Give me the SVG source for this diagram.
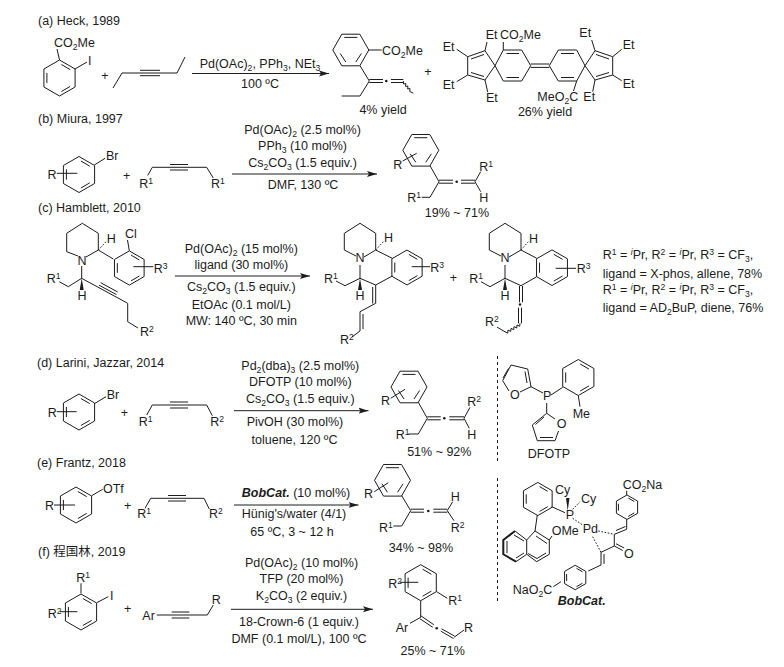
<svg xmlns="http://www.w3.org/2000/svg" width="784" height="667" viewBox="0 0 784 667">
<style>
text{font-family:"Liberation Sans","Noto Sans CJK SC",sans-serif;font-size:12.5px;fill:#1c1c1c}
.m{text-anchor:middle}
.s{font-size:8.6px}
path,line{fill:none;stroke:#1c1c1c;stroke-width:1}
.hex path{vector-effect:non-scaling-stroke}
.dash{stroke-dasharray:1.6 1.6}
.vd{stroke-dasharray:3 3}
.w{fill:#1c1c1c;stroke:none}
.bold{stroke-width:2}
circle{fill:#1c1c1c}
</style>
<defs>
<marker id="ah" markerUnits="userSpaceOnUse" markerWidth="11" markerHeight="8" refX="10" refY="4" orient="auto"><path d="M0 1 L10 4 L0 7 L2 4Z" style="fill:#1c1c1c;stroke:none"/></marker>
<g id="hexA" class="hex"><path d="M0-18 15.6-9V9L0 18-15.6 9V-9Z"/><path d="M1.9-13.5 10.7-8.4M10.7 8.4 1.9 13.5M-12.6 5.1V-5.1"/></g>
<g id="hexB" class="hex"><path d="M-9-15.8H9L18 0 9 15.8H-9L-18 0Z"/><path d="M-6.5-12.6H6.5M10.6 3.5 5 12M-10.6 3.5-5 12"/></g>
</defs>
<g id="labels">
<text x="38" y="25">(a) Heck, 1989</text>
<text x="38" y="123">(b) Miura, 1997</text>
<text x="38" y="212">(c) Hamblett, 2010</text>
<text x="37" y="367">(d) Larini, Jazzar, 2014</text>
<text x="37" y="467">(e) Frantz, 2018</text>
<text x="38" y="556">(f) 程国林, 2019</text>
</g>
<g id="connectors">
<line x1="192" y1="73.5" x2="329" y2="73.5" marker-end="url(#ah)"/>
<line x1="232" y1="174" x2="377" y2="174" marker-end="url(#ah)"/>
<line x1="175" y1="276" x2="310" y2="276" marker-end="url(#ah)"/>
<line x1="234" y1="410.7" x2="368.5" y2="410.7" marker-end="url(#ah)"/>
<line x1="234" y1="505" x2="358.5" y2="505" marker-end="url(#ah)"/>
<line x1="231" y1="609.3" x2="373" y2="609.3" marker-end="url(#ah)"/>
</g>
<g id="dividers">
<line class="vd" x1="497.5" y1="356" x2="497.5" y2="462"/>
<line class="vd" x1="497.5" y1="478" x2="497.5" y2="602"/>
</g>
<g id="conditions">
<text class="m" x="260" y="68">Pd(OAc)<tspan class="s" dy="3">2</tspan><tspan dy="-3">, PPh</tspan><tspan class="s" dy="3">3</tspan><tspan dy="-3">, NEt</tspan><tspan class="s" dy="3">3</tspan></text>
<text class="m" x="260" y="88">100 ºC</text>
<text class="m" x="302.5" y="133.5">Pd(OAc)<tspan class="s" dy="3">2</tspan><tspan dy="-3"> (2.5 mol%)</tspan></text>
<text class="m" x="302.5" y="150">PPh<tspan class="s" dy="3">3</tspan><tspan dy="-3"> (10 mol%)</tspan></text>
<text class="m" x="302.5" y="167">Cs<tspan class="s" dy="3">2</tspan><tspan dy="-3">CO</tspan><tspan class="s" dy="3">3</tspan><tspan dy="-3"> (1.5 equiv.)</tspan></text>
<text class="m" x="303" y="188.5">DMF, 130 ºC</text>
<text class="m" x="241.3" y="252.5">Pd(OAc)<tspan class="s" dy="3">2</tspan><tspan dy="-3"> (15 mol%)</tspan></text>
<text class="m" x="241.3" y="269">ligand (30 mol%)</text>
<text class="m" x="241.3" y="291">Cs<tspan class="s" dy="3">2</tspan><tspan dy="-3">CO</tspan><tspan class="s" dy="3">3</tspan><tspan dy="-3"> (1.5 equiv.)</tspan></text>
<text class="m" x="241.3" y="308.5">EtOAc (0.1 mol/L)</text>
<text class="m" x="241.3" y="325">MW: 140 ºC, 30 min</text>
<text class="m" x="300.3" y="370">Pd<tspan class="s" dy="3">2</tspan><tspan dy="-3">(dba)</tspan><tspan class="s" dy="3">3</tspan><tspan dy="-3"> (2.5 mol%)</tspan></text>
<text class="m" x="300.3" y="386.3">DFOTP (10 mol%)</text>
<text class="m" x="300.3" y="403.3">Cs<tspan class="s" dy="3">2</tspan><tspan dy="-3">CO</tspan><tspan class="s" dy="3">3</tspan><tspan dy="-3"> (1.5 equiv.)</tspan></text>
<text class="m" x="295" y="426">PivOH (30 mol%)</text>
<text class="m" x="294.5" y="444">toluene, 120 ºC</text>
<text class="m" x="296" y="497"><tspan font-weight="bold" font-style="italic">BobCat.</tspan> (10 mol%)</text>
<text class="m" x="294" y="518.3">Hünig's/water (4/1)</text>
<text class="m" x="292" y="535.7">65 ºC, 3 ~ 12 h</text>
<text class="m" x="301.5" y="566.7">Pd(OAc)<tspan class="s" dy="3">2</tspan><tspan dy="-3"> (10 mol%)</tspan></text>
<text class="m" x="301.5" y="583.3">TFP (20 mol%)</text>
<text class="m" x="301.5" y="600">K<tspan class="s" dy="3">2</tspan><tspan dy="-3">CO</tspan><tspan class="s" dy="3">3</tspan><tspan dy="-3"> (2 equiv.)</tspan></text>
<text class="m" x="299" y="625.7">18-Crown-6 (1 equiv.)</text>
<text class="m" x="299" y="643.3">DMF (0.1 mol/L), 100 ºC</text>
</g>
<g id="a-aryl-iodide">
<use href="#hexA" x="59.5" y="78"/>
<path d="M59.5 60 57 49M75 69 87 62"/>
<text x="54" y="47">CO<tspan class="s" dy="3">2</tspan><tspan dy="-3">Me</tspan></text>
<text x="88" y="65">I</text>
</g>
<g id="a-plus"><text class="m" x="105" y="80">+</text></g>
<g id="a-alkyne"><path d="M113 88 122 73H177L185 57M140 70.3H160M140 75.7H160"/></g>
<g id="a-allene">
<use href="#hexB" x="350.8" y="50"/>
<path d="M369 50H381.7M360 65.7 369.3 81 360 96H341.7M369.3 79.5H383M369.3 82.5H383M391 79.5H403.3M391 82.5H403.3"/>
<circle cx="386.3" cy="81" r="1.3"/>
<path d="M403.3 81l.2 3 2.3-.5-.2 3 2.3-.5-.2 3 2.3-.5-.2 3 3.5 1.7"/>
<text x="382" y="55">CO<tspan class="s" dy="3">2</tspan><tspan dy="-3">Me</tspan></text>
<text class="m" x="383" y="114">4% yield</text>
</g>
<g id="a-plus2"><text class="m" x="428" y="76">+</text></g>
<g id="a-dimer">
<path d="M495 65.7 503.3 50H521.7L530.7 65.7 521.7 81H503.3ZM506.5 53.5H519M506.5 77.5H519M530.7 64H549.3M530.7 67.4H549.3M549.3 65.7 558.3 50H576.7L585 65.7 576.7 81H558.3ZM561 53.5H574M561 77.5H574"/>
<path d="M495 65.7 485 50.7 467.7 56.7V75L485 80ZM484 54.5 471 59M471 72.5 484 76.5M585 65.7 595 50.7 612.7 56.7V75L595 80ZM596 54.5 609 59M609 72.5 596 76.5"/>
<path d="M485 50.7 487 42M467.7 56.7 456.7 49.3M467.7 75 456.7 81.7M485 80 487.7 92M503.3 50V42M595 50.7 591.7 40M612.7 56.7 621.7 49.3M612.7 75 621.7 80.7M595 80 592.7 91.7M576.7 81 573.5 91"/>
<text x="485.7" y="38.5">Et</text><text x="500" y="38.5">CO<tspan class="s" dy="3">2</tspan><tspan dy="-3">Me</tspan></text>
<text x="442.7" y="50.7">Et</text><text x="442.7" y="89">Et</text><text x="486" y="101.7">Et</text>
<text x="579.3" y="37.3">Et</text><text x="622.7" y="49.3">Et</text><text x="622.7" y="88.3">Et</text><text x="583.3" y="100.7">Et</text>
<text x="537.3" y="100.7">MeO<tspan class="s" dy="3">2</tspan><tspan dy="-3">C</tspan></text>
<text class="m" x="545" y="115.5">26% yield</text>
</g>
<g id="b-aryl-bromide">
<use href="#hexA" x="79" y="174.5"/>
<path d="M94.3 165 105 158.3M56.7 173.3H77.3"/>
<text x="106" y="160">Br</text><text x="47.5" y="178.5">R</text>
</g>
<g id="b-plus"><text class="m" x="126.7" y="180">+</text></g>
<g id="b-alkyne">
<path d="M147.7 175.5 152.3 167.3H206.7L213.3 178M170 164.5H188M170 170H188"/>
<text x="139.3" y="188">R<tspan class="s" dy="-4">1</tspan></text><text x="211" y="188">R<tspan class="s" dy="-4">1</tspan></text>
</g>
<g id="b-allene">
<use href="#hexB" x="420.8" y="150.3"/>
<path d="M402.7 161 416.7 153.3M430 165.7 439 181.7 430 197.3H421.7M439 180.2H453M439 183.2H453M461 180.2H475M461 183.2H475M475 181.7 480.7 171.7M475 181.7 480.7 191.7"/>
<circle cx="456.7" cy="181.7" r="1.3"/>
<text x="393.3" y="168.5">R</text><text x="479.3" y="170.7">R<tspan class="s" dy="-4">1</tspan></text><text x="479.3" y="201.7">H</text><text x="407.3" y="201.7">R<tspan class="s" dy="-4">1</tspan></text>
<text class="m" x="457" y="216.7">19% ~ 71%</text>
</g>
<g id="c-substrate">
<path d="M78 256 66.7 251.7V233.3L82.3 223.3 98.3 233.3V250L86 257M98.3 250 113.3 259"/>
<path class="dash" d="M98.3 250 106 241.7"/>
<use href="#hexA" transform="translate(129.3 268) scale(.95)"/>
<path d="M129.3 250.7 127.5 240M133.3 266.7H153.3M81.7 266V278.3L68.3 286.7 59.3 281.7M81.7 278.3 127.7 303.3V321.7L138 328M99 285.2 116.5 294.6M100.7 282.7 117.7 292"/>
<path class="w" d="M81.7 278.3 79.7 290H83.7Z"/>
<text class="m" x="82" y="265">N</text><text x="106.7" y="243">H</text><text x="125" y="237.7">Cl</text>
<text x="153.7" y="272.7">R<tspan class="s" dy="-4">3</tspan></text><text x="46.7" y="282.7">R<tspan class="s" dy="-4">1</tspan></text>
<text class="m" x="82" y="299.5">H</text><text x="140" y="336">R<tspan class="s" dy="-4">2</tspan></text>
</g>
<g id="c-diene">
<path d="M356 256 344.3 250V233.3L360 223.3 375.7 233.3V250L364 257M375.7 250 392.3 258.3"/>
<path class="dash" d="M375.7 250 383.3 241.7"/>
<use href="#hexA" transform="translate(407 267.5) scale(.97)"/>
<path d="M411.7 266.7H430M360 265V278.3L345 285.7 336 281M360 278.3 375.7 285 392.3 276M375.7 285V303.3M372.7 287V303.5M375.7 303.3 360 311.7V331L352 337M363 314V329"/>
<path class="w" d="M360 278.3 358 290H362Z"/>
<text class="m" x="360" y="261.7">N</text><text x="384" y="241.7">H</text>
<text x="430.3" y="271.7">R<tspan class="s" dy="-4">3</tspan></text><text x="324" y="282.7">R<tspan class="s" dy="-4">1</tspan></text>
<text class="m" x="360" y="300">H</text><text x="340" y="344.3">R<tspan class="s" dy="-4">2</tspan></text>
</g>
<g id="c-plus"><text class="m" x="453.3" y="281.5">+</text></g>
<g id="c-allene">
<path d="M501 256 489.3 250V233.3L505 223.3 521 233.3V250L509 257M521 250 536.7 258.3"/>
<path class="dash" d="M521 250 528.3 241.7"/>
<use href="#hexA" transform="translate(552 267.7) scale(.99)"/>
<path d="M555.7 268.3H576M505 265V278.3L490 286.7 481 281.7M505 278.3 521 285.7 536.7 276.7M519.5 286V302.3M522.5 286V302.3M518.5 307.7V323.3M521.5 307.7V323.3"/>
<circle cx="520" cy="304.5" r="1.3"/>
<path d="M520 323.3l-.3 3-2.7-1.3-.3 3-2.7-1.3-.3 3-2.7-1.3-.3 3-2.7-1.3-.3 3-2.7-1.3-8 -4.7"/>
<path class="w" d="M505 278.3 503 290H507Z"/>
<text class="m" x="505" y="262">N</text><text x="529" y="242.7">H</text>
<text x="576.7" y="273.3">R<tspan class="s" dy="-4">3</tspan></text><text x="469.3" y="282.7">R<tspan class="s" dy="-4">1</tspan></text>
<text class="m" x="505" y="300">H</text><text x="485" y="326">R<tspan class="s" dy="-4">2</tspan></text>
</g>
<g id="c-results">
<text x="602.7" y="259">R<tspan class="s" dy="-4">1</tspan><tspan dy="4"> = </tspan><tspan class="s" dy="-4" font-style="italic">i</tspan><tspan dy="4">Pr, R</tspan><tspan class="s" dy="-4">2</tspan><tspan dy="4"> = </tspan><tspan class="s" dy="-4" font-style="italic">i</tspan><tspan dy="4">Pr, R</tspan><tspan class="s" dy="-4">3</tspan><tspan dy="4"> = CF</tspan><tspan class="s" dy="3">3</tspan><tspan dy="-3">,</tspan></text>
<text x="602.7" y="277.7">ligand = X-phos, allene, 78%</text>
<text x="602.7" y="294">R<tspan class="s" dy="-4">1</tspan><tspan dy="4"> = </tspan><tspan class="s" dy="-4" font-style="italic">i</tspan><tspan dy="4">Pr, R</tspan><tspan class="s" dy="-4">2</tspan><tspan dy="4"> = </tspan><tspan class="s" dy="-4" font-style="italic">i</tspan><tspan dy="4">Pr, R</tspan><tspan class="s" dy="-4">3</tspan><tspan dy="4"> = CF</tspan><tspan class="s" dy="3">3</tspan><tspan dy="-3">,</tspan></text>
<text x="602.7" y="312.3">ligand = AD<tspan class="s" dy="3">2</tspan><tspan dy="-3">BuP, diene, 76%</tspan></text>
</g>
<g id="d-aryl-bromide">
<use href="#hexA" x="79" y="412"/>
<path d="M95 403.3 106 396.7M56.7 411.7H76.7"/>
<text x="106.7" y="399">Br</text><text x="47.7" y="416.7">R</text>
</g>
<g id="d-plus"><text class="m" x="124.3" y="416.5">+</text></g>
<g id="d-alkyne">
<path d="M146.7 415 152.3 405H206.7L212.3 415.7M170 402H188M170 408H188"/>
<text x="138.7" y="426">R<tspan class="s" dy="-4">1</tspan></text><text x="210.3" y="426">R<tspan class="s" dy="-4">2</tspan></text>
</g>
<g id="d-allene">
<use href="#hexB" x="409" y="387"/>
<path d="M390.7 398.3 405 389.3M418.3 402.3 427.3 418.3 418.3 434H408.3M427.3 416.8H440.7M427.3 419.8H440.7M449.3 416.8H464M449.3 419.8H464M464 418.3 470 407.3M464 418.3 469.3 428.3"/>
<circle cx="444.3" cy="418.3" r="1.3"/>
<text x="381" y="405">R</text><text x="467.3" y="406">R<tspan class="s" dy="-4">2</tspan></text><text x="467.3" y="439">H</text><text x="395.7" y="439.3">R<tspan class="s" dy="-4">1</tspan></text>
<text class="m" x="439.3" y="455.7">51% ~ 92%</text>
</g>
<g id="dfotp">
<path d="M543 393 531 386.7 527.7 369 511 365 502.7 380.7 509 391M520 392 531 386.7M527 383 525 371.5M508.5 368.5 503 378"/>
<path d="M546.7 403V413.3L555 419M546.7 413.3 532.3 425 537.3 440.7H555L558.5 431M544 417 535.5 424.5M540 437.5H553"/>
<use href="#hexA" x="578.3" y="377.5"/>
<path d="M551 395 562.7 387.3M578.3 395.7 580 406.7"/>
<text x="510" y="399">O</text><text x="543" y="400">P</text><text x="556.7" y="428.3">O</text><text x="572.7" y="417.7">Me</text>
<text class="m" x="549" y="457.5">DFOTP</text>
</g>
<g id="e-triflate">
<use href="#hexA" x="76" y="505"/>
<path d="M91.7 495.7 102.7 489.3M54 505H75"/>
<text x="103" y="492.7">OTf</text><text x="45" y="510">R</text>
</g>
<g id="e-plus"><text class="m" x="127.7" y="510">+</text></g>
<g id="e-alkyne">
<path d="M145 508.3 150.7 498.3H204L209.3 509M168 495.5H186M168 501H186"/>
<text x="137.3" y="518.3">R<tspan class="s" dy="-4">1</tspan></text><text x="209" y="518.3">R<tspan class="s" dy="-4">2</tspan></text>
</g>
<g id="e-allene">
<use href="#hexB" x="392.5" y="480.3"/>
<path d="M374.3 491.7 388.3 482.7M401.7 495.7 410.7 510.7 401.7 526H393.3M410.7 509.2H424M410.7 512.2H424M433.3 509.2H447.3M433.3 512.2H447.3M447.3 510.7 452.7 501.7M447.3 510.7 454 520.7"/>
<circle cx="428.3" cy="511" r="1.3"/>
<text x="364" y="497.7">R</text><text x="450.7" y="500.7">H</text><text x="450.7" y="531.7">R<tspan class="s" dy="-4">2</tspan></text><text x="379" y="531.7">R<tspan class="s" dy="-4">1</tspan></text>
<text class="m" x="421" y="551.7">34% ~ 98%</text>
</g>
<g id="bobcat">
<use href="#hexA" transform="translate(537.8 499) scale(.92)"/>
<path d="M551.7 506.7 565 512.7M537.3 515 535 531"/>
<path class="w" d="M567.7 510.7 566 498H569.5Z"/>
<path class="dash" d="M572.7 509.3 580 501.7M572.7 518.3 582.7 525"/>
<path d="M526.7 540 535 531 549.3 540V554.3L536.7 561.7 526.7 554.3ZM526.7 540 515 531M526.7 554.3 516 561.7M547 543.5 536 536M546 553 537 558.5M528 553.5 537 558.5"/>
<path class="bold" d="M515 531 503.3 540V554.3L516 561.7"/>
<path d="M514 535 524 541M507 541V553M516 558 524 553"/>
<path d="M549.3 540 552 536"/>
<use href="#hexA" transform="translate(627 507.2) scale(.68)"/>
<path d="M626.7 495V490.7M626.7 519.3V529.3L614.3 534.3V546L601 552.3V565L588.3 571M625.5 526.5 616 530.5M614.3 546 622.8 550.5M616 543.8 624.2 548M604 554V564"/>
<path class="dash" d="M598.3 531 614.3 534.3M592.7 536.7 601 552.3"/>
<use href="#hexA" transform="translate(575.2 577.5) scale(.68)"/>
<path d="M561 581.7 553.3 586.7"/>
<text x="555" y="494">Cy</text><text x="581" y="502.7">Cy</text><text x="565.7" y="519">P</text><text x="582.7" y="533.3">Pd</text>
<text x="551.7" y="535">OMe</text>
<text x="622.7" y="489">CO<tspan class="s" dy="3">2</tspan><tspan dy="-3">Na</tspan></text>
<text x="624" y="557.7">O</text>
<text x="512.7" y="594">NaO<tspan class="s" dy="3">2</tspan><tspan dy="-3">C</tspan></text>
<text class="m" x="581.7" y="605" font-weight="bold" font-style="italic">BobCat.</text>
</g>
<g id="f-aryl-iodide">
<use href="#hexA" x="81" y="612"/>
<path d="M81 593.3V583.3M96.7 602.7 108.3 596.7M60 611.7H77.3"/>
<text x="76.3" y="581.7">R<tspan class="s" dy="-4">1</tspan></text><text x="110" y="600">I</text><text x="47.7" y="617.7">R<tspan class="s" dy="-4">2</tspan></text>
</g>
<g id="f-plus"><text class="m" x="127.7" y="612.5">+</text></g>
<g id="f-alkyne">
<path d="M156.7 615H207.3L213.3 605M171.7 612H189.3M171.7 618H189.3"/>
<text x="142.3" y="620">Ar</text><text x="211.7" y="604">R</text>
</g>
<g id="f-allene">
<use href="#hexA" x="420.7" y="582.7"/>
<path d="M400 582.3H418.3M436.7 591.7 447.3 598.3M420.7 601V617.3L410 623.3M420.7 615.7 433.8 624.7M420 618.8 432.8 627.3M441.5 628.8 454.5 636M440.8 631.2 453.5 638.5M454 637.3 464 630"/>
<circle cx="436.7" cy="628.3" r="1.3"/>
<text x="388.3" y="588.3">R<tspan class="s" dy="-4">2</tspan></text><text x="448.3" y="605">R<tspan class="s" dy="-4">1</tspan></text><text x="395.7" y="631.7">Ar</text><text x="464" y="631.7">R</text>
<text class="m" x="432.7" y="655">25% ~ 71%</text>
</g>
</svg>
